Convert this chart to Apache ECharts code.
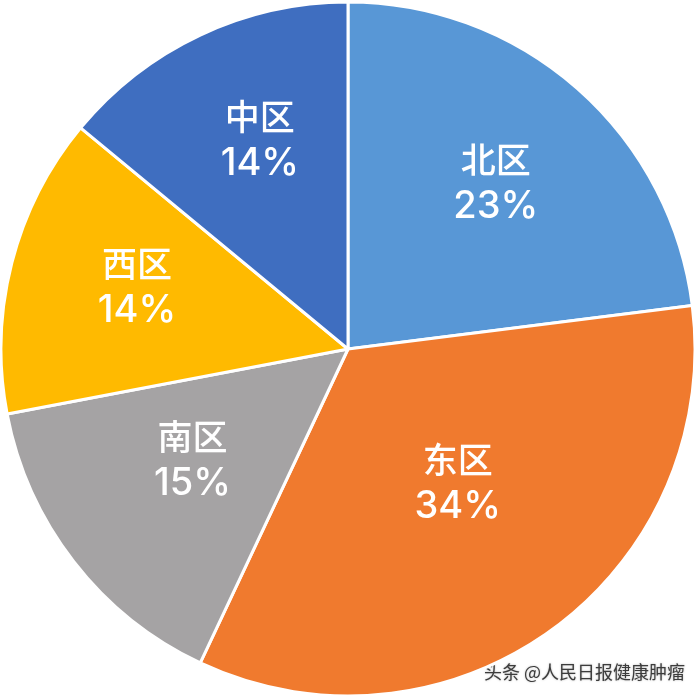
<!DOCTYPE html>
<html>
<head>
<meta charset="utf-8">
<style>
html, body { margin: 0; padding: 0; background: #fff; }
#chart { width: 698px; height: 698px; }
</style>
<script src="https://cdn.jsdelivr.net/npm/echarts@6/dist/echarts.min.js"></script>
</head>
<body>
<div id="chart"></div>
<script>
const regions = ["北区", "东区", "南区", "西区", "中区"];
const shares = [23, 34, 15, 14, 14];
const colors = ["#5897D6", "#F07A2E", "#A5A3A4", "#FFBA00", "#3F6EC0"];
const watermark = "头条 @人民日报健康肿瘤";

const labelFont = "Inter, 'Noto Sans CJK SC', sans-serif";
/* 标签相对默认位置的偏移 */
const labelShift = [ [ 31, -32 ], [ 6, -7 ], [ -16, 4 ], [ -40, -17 ], [ -13, -48 ] ];

const chart = echarts.init(document.getElementById("chart"));
chart.setOption({
	animation: false,
	graphic: [{
		type: "text",
		x: 484,
		y: 663,
		style: {
			text: watermark,
			fill: "#3c3c3c",
			fontSize: 18,
			fontFamily: "'Noto Sans CJK SC'",
			textShadowColor: "rgba(120,120,120,0.6)",
			textShadowBlur: 2
		}
	}],
	series: [{
		type: "pie",
		center: [348, 349],
		radius: [0, 347],
		startAngle: 90,
		clockwise: true,
		data: regions.map((name, i) => ({
			name,
			value: shares[i],
			itemStyle: { color: colors[i] }
		})),
		itemStyle: { borderColor: "#fff", borderWidth: 3 },
		label: {
			position: "inside",
			formatter: p => `{n|${ p.name }}\n{v|${ p.value }%}`,
			color: "#fff",
			rich: {
				n: { color: "#fff", fontSize: 35, fontWeight: 500, lineHeight: 44, fontFamily: labelFont },
				v: { color: "#fff", fontSize: 38, fontWeight: 500, lineHeight: 44, fontFamily: labelFont }
			}
		},
		labelLayout: p => ({ dx: labelShift[p.dataIndex][0], dy: labelShift[p.dataIndex][1] }),
		labelLine: { show: false },
		emphasis: { disabled: true }
	}]
});
</script>
</body>
</html>
